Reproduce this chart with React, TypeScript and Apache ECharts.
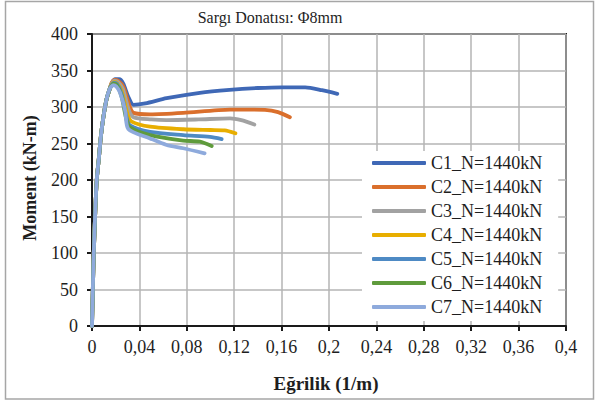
import React, { useEffect, useRef } from "react";
import * as echarts from "echarts";

const seriesNames = [
  "C1_N=1440kN",
  "C2_N=1440kN",
  "C3_N=1440kN",
  "C4_N=1440kN",
  "C5_N=1440kN",
  "C6_N=1440kN",
  "C7_N=1440kN",
];

const colors = ["#3F68B6", "#DA6F2C", "#A2A2A2", "#E8AE00", "#4E8AC4", "#5F9B3C", "#8EAADC"];

const ascent: number[][] = [
  [0, 0], [0.0007, 50], [0.0015, 100], [0.0026, 150], [0.004, 200],
  [0.0058, 230], [0.0075, 260], [0.0095, 285], [0.0122, 310], [0.015, 325],
];

const c1: number[][] = [
  [0.0168, 333], [0.0195, 338], [0.023, 338], [0.0264, 332], [0.0306, 314], [0.035, 303],
  [0.045, 305], [0.063, 312], [0.091, 319.5], [0.116, 323.5], [0.14, 326], [0.16, 327],
  [0.18, 327], [0.194, 323], [0.207, 318],
];
const c2: number[][] = [
  [0.0165, 333], [0.019, 337], [0.022, 336], [0.0264, 328], [0.032, 300], [0.035, 292],
  [0.049, 290], [0.077, 292], [0.1165, 296.5], [0.146, 296], [0.157, 293], [0.167, 286],
];
const c3: number[][] = [
  [0.0165, 332], [0.019, 336], [0.022, 334], [0.026, 325], [0.031, 296], [0.035, 286],
  [0.05, 283], [0.063, 282], [0.09, 283], [0.1165, 284.5], [0.126, 282], [0.137, 276],
];
const c4: number[][] = [
  [0.0165, 331], [0.0185, 334], [0.021, 333], [0.025, 322], [0.03, 290], [0.0335, 280],
  [0.049, 273], [0.077, 269.5], [0.1, 268.5], [0.112, 268], [0.121, 264],
];
const c5: number[][] = [
  [0.0165, 330], [0.018, 333], [0.021, 332], [0.025, 318], [0.029, 287], [0.032, 275],
  [0.049, 266], [0.077, 261.5], [0.0996, 259], [0.1094, 256],
];
const c6: number[][] = [
  [0.0165, 329], [0.018, 332], [0.021, 330], [0.025, 314], [0.029, 283], [0.032, 272],
  [0.049, 261.5], [0.077, 254], [0.091, 252.5], [0.101, 246.5],
];
const c7: number[][] = [
  [0.018, 330], [0.0205, 328], [0.0236, 320], [0.028, 295], [0.0306, 270],
  [0.049, 257], [0.063, 248], [0.077, 243.5], [0.095, 236.5],
];

const curves = [c1, c2, c3, c4, c5, c6, c7];

const titleText = "Sargı Donatısı: Φ8mm";
const xName = "Eğrilik (1/m)";
const yName = "Moment (kN-m)";

const FONT = "Liberation Serif";
const TEXT = "#1e1e1e";

export default function App() {
  const ref = useRef<HTMLDivElement>(null);
  useEffect(() => {
    if (!ref.current) return;
    const chart = echarts.init(ref.current, null, { renderer: "svg" });
    chart.setOption({
      animation: false,
      backgroundColor: "#fff",
      textStyle: { fontFamily: FONT },
      grid: {
        left: 92,
        right: 30,
        top: 34,
        bottom: 76,
        show: true,
        borderColor: "#1a1a1a",
        borderWidth: 2,
        containLabel: false,
      },
      graphic: [
        {
          type: "rect",
          shape: { x: 5.5, y: 1.5, width: 588, height: 397.5 },
          style: { fill: "none", stroke: "#A6A6A6", lineWidth: 1.5 },
          z: 0,
          silent: true,
        },
        {
          type: "text",
          x: 270,
          y: 17,
          style: {
            text: titleText,
            fontFamily: FONT,
            fontSize: 16,
            fontWeight: "normal",
            fill: TEXT,
            align: "center",
            verticalAlign: "middle",
          },
        },
        {
          type: "text",
          x: 326,
          y: 383,
          style: {
            text: xName,
            fontFamily: FONT,
            fontSize: 19,
            fontWeight: "bold",
            fill: TEXT,
            align: "center",
            verticalAlign: "middle",
          },
        },
        {
          type: "text",
          x: 30,
          y: 178,
          rotation: Math.PI / 2,
          style: {
            text: yName,
            fontFamily: FONT,
            fontSize: 18,
            fontWeight: "bold",
            fill: TEXT,
            align: "center",
            verticalAlign: "middle",
          },
        },
      ],
      legend: {
        orient: "vertical",
        left: 362,
        top: 151,
        padding: [2, 16, 4, 10],
        backgroundColor: "#fff",
        icon: "roundRect",
        itemWidth: 54,
        itemHeight: 4,
        itemGap: 4,
        data: seriesNames,
        textStyle: { fontFamily: FONT, fontSize: 18, color: TEXT, lineHeight: 20 },
      },
      xAxis: {
        type: "value",
        min: 0,
        max: 0.4,
        interval: 0.04,
        axisLine: { show: true, lineStyle: { color: "#1a1a1a", width: 2 } },
        axisTick: { show: true, inside: false, length: 5, lineStyle: { color: "#1a1a1a", width: 2 } },
        axisLabel: {
          fontFamily: FONT,
          fontSize: 18,
          color: TEXT,
          margin: 12,
          formatter: (v: number) => String(parseFloat(v.toFixed(2))).replace(".", ","),
        },
        splitLine: { show: true, lineStyle: { color: "#B4B4B4", width: 1.5 } },
      },
      yAxis: {
        type: "value",
        min: 0,
        max: 400,
        interval: 50,
        axisLine: { show: true, lineStyle: { color: "#1a1a1a", width: 2 } },
        axisTick: { show: true, inside: false, length: 5, lineStyle: { color: "#1a1a1a", width: 2 } },
        axisLabel: { fontFamily: FONT, fontSize: 18, color: TEXT, margin: 14 },
        splitLine: { show: true, lineStyle: { color: "#B4B4B4", width: 1.5 } },
      },
      series: curves.map((c, i) => ({
        name: seriesNames[i],
        type: "line",
        data: [...ascent, ...c],
        showSymbol: false,
        smooth: 0.25,
        color: colors[i],
        lineStyle: { width: 3.8, color: colors[i], cap: "round", join: "round" },
        z: 2 + i,
      })),
    });
    return () => chart.dispose();
  }, []);
  return <div ref={ref} style={{ width: 596, height: 402, position: "absolute", left: 0, top: 0 }} />;
}
